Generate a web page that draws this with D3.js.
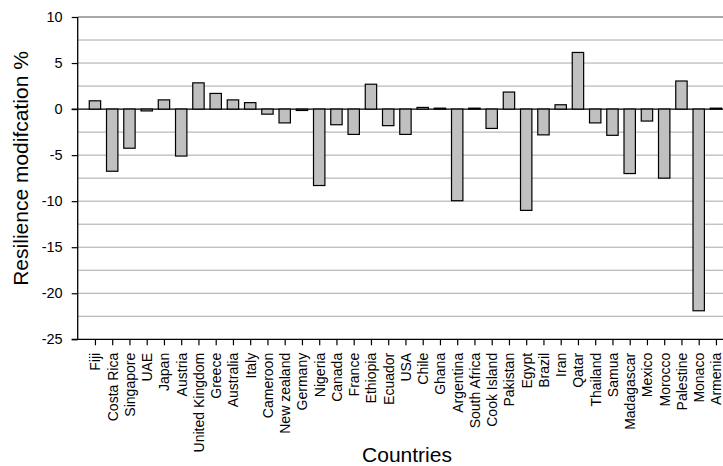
<!DOCTYPE html>
<html>
<head>
<meta charset="utf-8">
<script src="https://cdn.jsdelivr.net/npm/d3@7"></script>
<style>
  body { margin: 0; background: #fff; }
  svg { display: block; font-family: "Liberation Sans", Arial, sans-serif; }
</style>
</head>
<body>
<svg id="chart" width="723" height="466"></svg>
<script>
// countries in chart order
const countries = ['Fiji', 'Costa Rica', 'Singapore', 'UAE', 'Japan', 'Austria', 'United Kingdom', 'Greece',
    'Australia', 'Italy', 'Cameroon', 'New zealand', 'Germany', 'Nigeria', 'Canada', 'France', 'Ethiopia',
    'Ecuador', 'USA', 'Chile', 'Ghana', 'Argentina', 'South Africa', 'Cook Island', 'Pakistan', 'Egypt',
    'Brazil', 'Iran', 'Qatar', 'Thailand', 'Samua', 'Madagascar', 'Mexico', 'Morocco', 'Palestine',
    'Monaco', 'Armenia'];

// resilience modification in %
const resilience = [0.9, -6.75, -4.25, -0.2, 1.0, -5.1, 2.85, 1.7,
    1.0, 0.7, -0.55, -1.5, -0.15, -8.3, -1.7, -2.75, 2.7,
    -1.8, -2.75, 0.18, 0.1, -9.95, 0.1, -2.1, 1.85, -11.0,
    -2.8, 0.47, 6.15, -1.5, -2.85, -7.0, -1.3, -7.5, 3.05,
    -21.9, 0.1];

const yTicks = [10, 5, 0, -5, -10, -15, -20, -25];
const gridValues = [7.5, 5, 2.5, -2.5, -5, -7.5, -10, -12.5, -15, -17.5, -20, -22.5];

const svg = d3.select('#chart');
const plotLeft = 77.7, plotTop = 17, plotBottom = 339.3, plotRight = 740;

const y = d3.scaleLinear().domain([-25, 10]).range([plotBottom, plotTop]);
// categories sit one step in from the axis, last one cut by the frame
const step = 17.25;
const x = d3.scalePoint().domain(countries).range([plotLeft + step, plotLeft + step * countries.length]);
const barW = step * 0.66;

// gridlines
svg.append('g').selectAll('line')
    .data(gridValues)
    .join('line')
    .attr('x1', plotLeft).attr('x2', plotRight)
    .attr('y1', d => y(d)).attr('y2', d => y(d))
    .attr('stroke', '#a8a8a8').attr('stroke-width', 1);

svg.append('line')
    .attr('x1', plotLeft).attr('x2', plotRight)
    .attr('y1', y(10)).attr('y2', y(10))
    .attr('stroke', '#555').attr('stroke-width', 1.2);

svg.append('line')
    .attr('x1', plotLeft - 6).attr('x2', plotRight)
    .attr('y1', y(0)).attr('y2', y(0))
    .attr('stroke', '#000').attr('stroke-width', 1.2);

// bars
svg.append('g').selectAll('rect')
    .data(resilience)
    .join('rect')
    .attr('x', (d, i) => x(countries[i]) - barW / 2)
    .attr('width', barW)
    .attr('y', d => y(Math.max(0, d)))
    .attr('height', d => Math.max(1, Math.abs(y(d) - y(0))))
    .attr('fill', '#c0c0c0')
    .attr('stroke', '#000')
    .attr('stroke-width', 1.2);

// y axis (plain hyphen for negatives, like the original)
const yAxis = svg.append('g')
    .attr('transform', `translate(${plotLeft},0)`)
    .call(d3.axisLeft(y).tickValues(yTicks).tickSize(6).tickPadding(9).tickFormat(d => String(d)));
yAxis.select('.domain').remove();
yAxis.selectAll('.tick line').attr('stroke', '#000').attr('stroke-width', 1.2);
yAxis.selectAll('.tick text').attr('font-size', 14.5).attr('fill', '#000')
    .attr('font-family', '"Liberation Sans", Arial, sans-serif');

svg.append('line')
    .attr('x1', plotLeft).attr('x2', plotLeft)
    .attr('y1', plotTop).attr('y2', plotBottom)
    .attr('stroke', '#000').attr('stroke-width', 1.3);

// x axis
const xAxis = svg.append('g')
    .attr('transform', `translate(0,${plotBottom})`)
    .call(d3.axisBottom(x).tickSize(6).tickPadding(0));
xAxis.select('.domain').remove();
xAxis.selectAll('.tick line').attr('stroke', '#000').attr('stroke-width', 1.2);
xAxis.selectAll('.tick text')
    .attr('font-size', 14)
    .attr('fill', '#000')
    .attr('font-family', '"Liberation Sans", Arial, sans-serif')
    .attr('text-anchor', 'end')
    .attr('dy', null)
    .attr('y', null)
    .attr('transform', 'translate(5,13.5) rotate(-90)');

svg.append('line')
    .attr('x1', plotLeft - 6).attr('x2', plotRight)
    .attr('y1', plotBottom).attr('y2', plotBottom)
    .attr('stroke', '#000').attr('stroke-width', 1.3);

// axis titles
svg.append('text')
    .attr('transform', 'translate(28,168.5) rotate(-90)')
    .attr('text-anchor', 'middle')
    .attr('font-size', 21)
    .text('Resilience modifcation %');

svg.append('text')
    .attr('x', 407).attr('y', 461.5)
    .attr('text-anchor', 'middle')
    .attr('font-size', 21)
    .text('Countries');
</script>
</body>
</html>
